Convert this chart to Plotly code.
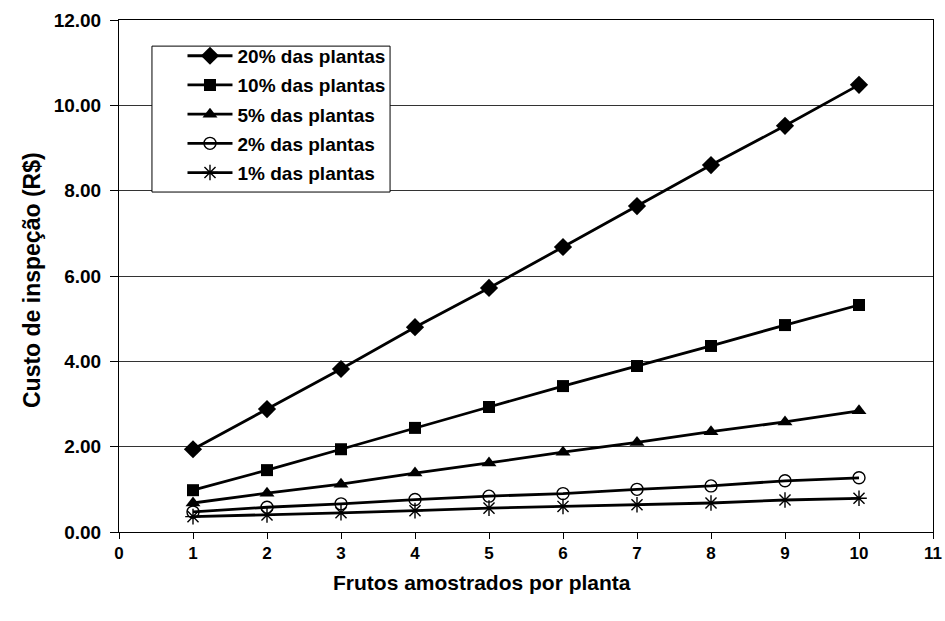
import plotly.graph_objects as go

# Frutos amostrados por planta
frutos = [1, 2, 3, 4, 5, 6, 7, 8, 9, 10]

# Custo de inspeção (R$) por percentagem de plantas amostradas
custo_20 = [1.94, 2.88, 3.82, 4.80, 5.72, 6.68, 7.64, 8.60, 9.52, 10.48]
custo_10 = [0.98, 1.45, 1.94, 2.44, 2.93, 3.42, 3.89, 4.36, 4.85, 5.32]
custo_5 = [0.68, 0.91, 1.12, 1.38, 1.62, 1.87, 2.10, 2.35, 2.58, 2.84]
custo_2 = [0.47, 0.58, 0.66, 0.76, 0.84, 0.90, 1.00, 1.08, 1.20, 1.27]
custo_1 = [0.36, 0.40, 0.45, 0.50, 0.56, 0.60, 0.64, 0.68, 0.75, 0.79]

nomes = ["20% das plantas", "10% das plantas", "5% das plantas",
         "2% das plantas", "1% das plantas"]

y_ticks = [0, 2, 4, 6, 8, 10, 12]
x_ticks = list(range(0, 12))

titulo_x = "Frutos amostrados por planta"
titulo_y = "Custo de inspeção (R$)"

series = [
    (nomes[0], custo_20, dict(symbol="diamond", size=14, color="black")),
    (nomes[1], custo_10, dict(symbol="square", size=12, color="black")),
    (nomes[2], custo_5, dict(symbol="triangle-up", size=13, color="black")),
    (nomes[3], custo_2, dict(symbol="circle-open", size=12, color="black",
                             line=dict(width=1.4, color="black"))),
    (nomes[4], custo_1, dict(symbol="asterisk-open", size=13, color="black",
                             line=dict(width=1.4, color="black"))),
]

fig = go.Figure()
for i, (nome, valores, marcador) in enumerate(series):
    fig.add_trace(go.Scatter(
        x=frutos, y=valores, name=nome, mode="lines+markers",
        legendgroup=f"g{i}",
        line=dict(color="black", width=2.8),
        marker=marcador,
    ))

font_family = "Liberation Sans, Arial, sans-serif"

# caixa branca com contorno preto por trás da legenda
fig.add_shape(
    type="rect", xref="paper", yref="paper",
    x0=0.0405, x1=0.333, y0=0.664, y1=0.949,
    fillcolor="white", line=dict(color="black", width=1), layer="above",
)

# títulos dos eixos
fig.add_annotation(
    text=titulo_x, xref="paper", yref="paper", x=0.446, y=-0.0996,
    xanchor="center", yanchor="middle", showarrow=False,
    font=dict(size=21, weight="bold", family=font_family),
)
fig.add_annotation(
    text=titulo_y, xref="paper", yref="paper", x=-0.107, y=0.492,
    xanchor="center", yanchor="middle", showarrow=False, textangle=-90,
    font=dict(size=23, weight="bold", family=font_family),
)

fig.update_layout(
    width=945, height=621,
    margin=dict(l=119, r=12, t=20, b=89),
    paper_bgcolor="white", plot_bgcolor="white",
    font=dict(family=font_family, color="black"),
    showlegend=True,
    legend=dict(
        x=0.078, y=0.967, xanchor="left", yanchor="top",
        bgcolor="rgba(0,0,0,0)", borderwidth=0,
        font=dict(size=19, family=font_family, weight="bold"),
        tracegroupgap=1.5, itemwidth=45,
    ),
    xaxis=dict(
        range=[0, 11], tickvals=x_ticks,
        ticktext=[str(v) for v in x_ticks],
        showgrid=False, zeroline=False, automargin=False,
        showline=True, linecolor="black", linewidth=1, mirror=True,
        ticks="outside", ticklen=6, tickcolor="black",
        tickfont=dict(size=17, weight="bold"),
    ),
    yaxis=dict(
        range=[0, 12], tickvals=y_ticks,
        ticktext=[f"{v:.2f}" for v in y_ticks],
        showgrid=True, gridcolor="#333333", gridwidth=1, zeroline=False,
        automargin=False,
        showline=True, linecolor="black", linewidth=1, mirror=True,
        ticks="outside", ticklen=8, tickcolor="black", ticklabelstandoff=5,
        tickfont=dict(size=19, weight="bold"),
    ),
)

fig.write_html("out.html")
